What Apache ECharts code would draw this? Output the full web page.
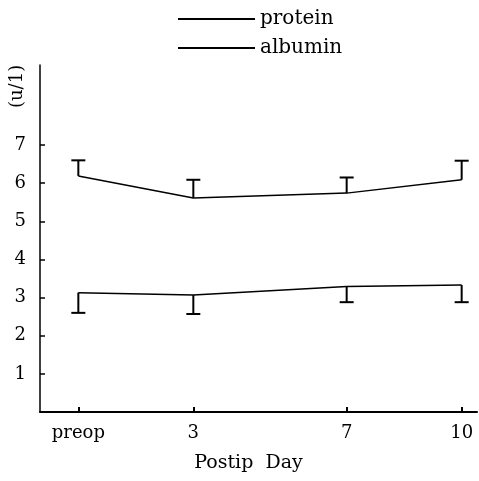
<!DOCTYPE html>
<html>
<head>
<meta charset="utf-8">
<script src="https://cdn.jsdelivr.net/npm/echarts@6/dist/echarts.min.js"></script>
<style>
html,body{margin:0;padding:0;background:#fff;}
#chart{width:479px;height:481px;}
</style>
</head>
<body>
<div id="chart"></div>
<script>
// Data
var days = [0, 3, 7, 10];
var dayLabels = ['preop', '3', '7', '10'];
var proteinMean = [6.19, 5.61, 5.74, 6.09];
var proteinUpper = [6.60, 6.09, 6.15, 6.59];
var albuminMean = [3.13, 3.07, 3.29, 3.33];
var albuminLower = [2.60, 2.57, 2.88, 2.88];
var yTicks = [1, 2, 3, 4, 5, 6, 7];

var FONT = 'DejaVu Serif';

function pairs(xs, ys) { return xs.map(function (x, i) { return [x, ys[i]]; }); }
function errData(xs, m, b) { return xs.map(function (x, i) { return [x, m[i], b[i]]; }); }

function renderErr(params, api) {
  var x = api.value(0);
  var p0 = api.coord([x, api.value(1)]);
  var p1 = api.coord([x, api.value(2)]);
  var hw = 7;
  var st = { stroke: '#000', lineWidth: 2 };
  return {
    type: 'group',
    children: [
      { type: 'line', shape: { x1: p0[0], y1: p0[1], x2: p1[0], y2: p1[1] }, style: st },
      { type: 'line', shape: { x1: p1[0] - hw, y1: p1[1], x2: p1[0] + hw, y2: p1[1] }, style: st }
    ]
  };
}

var chart = echarts.init(document.getElementById('chart'), null, { renderer: 'canvas' });
chart.setOption({
  backgroundColor: '#fff',
  animation: false,
  textStyle: { fontFamily: FONT, color: '#000' },
  legend: {
    orient: 'vertical',
    left: 173,
    top: 4,
    itemWidth: 77,
    itemHeight: 2,
    itemGap: 9,
    icon: 'rect',
    textStyle: { fontFamily: FONT, fontSize: 20, color: '#000' },
    data: ['protein', 'albumin']
  },
  grid: { left: 40, right: 2, top: 65, bottom: 69 },
  xAxis: {
    type: 'value',
    min: -1,
    max: 10.4,
    splitLine: { show: false },
    axisLine: { onZero: false, lineStyle: { color: '#000', width: 2 } },
    axisTick: { inside: true, length: 5, customValues: days, lineStyle: { color: '#000', width: 2 } },
    axisLabel: {
      customValues: days,
      margin: 12,
      fontFamily: FONT,
      fontSize: 18,
      color: '#000',
      formatter: function (v) { var i = days.indexOf(v); return i >= 0 ? dayLabels[i] : ''; }
    },
    name: 'Postip  Day',
    nameLocation: 'middle',
    nameGap: 42,
    nameTextStyle: { fontFamily: FONT, fontSize: 19, color: '#000', padding: [0, 20, 0, 0] }
  },
  yAxis: {
    type: 'value',
    min: 0,
    max: 9.1,
    splitLine: { show: false },
    axisLine: { show: true, onZero: false, lineStyle: { color: '#000', width: 1.5 } },
    axisTick: { show: true, inside: true, length: 5, customValues: yTicks, lineStyle: { color: '#000', width: 1.5 } },
    axisLabel: { customValues: yTicks, margin: 14, fontFamily: FONT, fontSize: 18, color: '#000' }
  },
  graphic: [{
    type: 'text',
    x: 8,
    y: 108,
    rotation: Math.PI / 2,
    style: { text: '(u/1)', font: '18px "DejaVu Serif"', fill: '#000', textAlign: 'left', textVerticalAlign: 'top' }
  }],
  series: [
    {
      name: 'protein', type: 'line', data: pairs(days, proteinMean),
      showSymbol: false, symbol: 'none', color: '#000',
      lineStyle: { color: '#000', width: 1.5 }, z: 3
    },
    {
      name: 'albumin', type: 'line', data: pairs(days, albuminMean),
      showSymbol: false, symbol: 'none', color: '#000',
      lineStyle: { color: '#000', width: 1.5 }, z: 3
    },
    { type: 'custom', renderItem: renderErr, data: errData(days, proteinMean, proteinUpper), z: 4 },
    { type: 'custom', renderItem: renderErr, data: errData(days, albuminMean, albuminLower), z: 4 }
  ]
});
</script>
</body>
</html>
